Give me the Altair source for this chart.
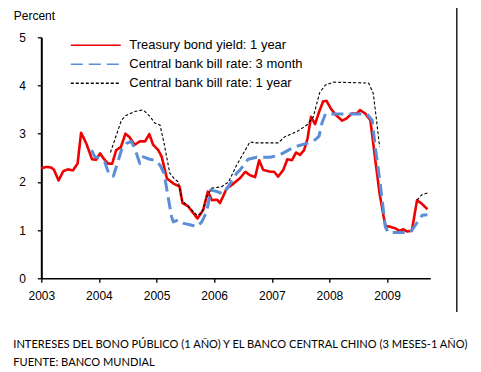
import altair as alt
import pandas as pd

# ---------------- data ----------------
red_t = [2003.00, 2003.08, 2003.17, 2003.22, 2003.30, 2003.38, 2003.46, 2003.55, 2003.63, 2003.69,
         2003.78, 2003.88, 2003.95, 2004.02, 2004.09, 2004.16, 2004.23, 2004.30, 2004.38, 2004.46,
         2004.53, 2004.62, 2004.71, 2004.80, 2004.875, 2004.94, 2005.03, 2005.09, 2005.18, 2005.29,
         2005.40, 2005.45, 2005.55, 2005.71, 2005.81, 2005.89, 2005.96, 2006.05, 2006.10, 2006.22,
         2006.31, 2006.45, 2006.54, 2006.62, 2006.71, 2006.78, 2006.85, 2006.97, 2007.04, 2007.11,
         2007.20, 2007.27, 2007.35, 2007.42, 2007.49, 2007.56, 2007.62, 2007.68, 2007.75, 2007.82,
         2007.89, 2007.95, 2008.02, 2008.10, 2008.22, 2008.30, 2008.39, 2008.48, 2008.53, 2008.62,
         2008.71, 2008.76, 2008.81, 2008.87, 2008.93, 2008.97, 2009.05, 2009.14, 2009.22, 2009.28,
         2009.35, 2009.43, 2009.52, 2009.61, 2009.70]
red_v = [2.28, 2.31, 2.30, 2.25, 2.03, 2.22, 2.26, 2.24, 2.38, 3.02,
         2.80, 2.47, 2.46, 2.59, 2.47, 2.38, 2.38, 2.66, 2.72, 3.00,
         2.93, 2.77, 2.84, 2.84, 2.99, 2.77, 2.66, 2.52, 2.07, 1.97,
         1.90, 1.56, 1.49, 1.24, 1.42, 1.80, 1.62, 1.63, 1.56, 1.87,
         1.94, 2.08, 2.21, 2.14, 2.10, 2.45, 2.25, 2.21, 2.21, 2.11,
         2.25, 2.47, 2.45, 2.61, 2.56, 2.66, 2.90, 3.35, 3.20, 3.45,
         3.67, 3.68, 3.53, 3.40, 3.27, 3.32, 3.42, 3.42, 3.49, 3.42,
         3.28, 2.80, 2.32, 1.76, 1.35, 1.09, 1.07, 1.04, 0.98, 1.02,
         0.97, 0.99, 1.62, 1.54, 1.43]

blue_t = [2003.87, 2003.93, 2004.02, 2004.10, 2004.18, 2004.25, 2004.33, 2004.39, 2004.48, 2004.56,
          2004.62, 2004.71, 2004.77, 2004.88, 2004.97, 2005.06, 2005.13, 2005.20, 2005.26, 2005.29,
          2005.38, 2005.47, 2005.58, 2005.70, 2005.785, 2005.87, 2005.94, 2006.05, 2006.16, 2006.28,
          2006.39, 2006.45, 2006.59, 2006.74, 2006.97, 2007.14, 2007.32, 2007.43, 2007.61, 2007.75,
          2007.82, 2007.87, 2007.93, 2008.65, 2008.74, 2008.81, 2008.88, 2008.97, 2009.02, 2009.40,
          2009.49, 2009.61, 2009.70]
blue_v = [2.66, 2.52, 2.49, 2.42, 2.14, 2.12, 2.42, 2.66, 2.80, 2.84,
          2.70, 2.38, 2.52, 2.47, 2.45, 2.35, 2.18, 1.69, 1.28, 1.17,
          1.21, 1.14, 1.11, 1.07, 1.17, 1.38, 1.83, 1.80, 1.75, 1.97,
          2.18, 2.25, 2.47, 2.51, 2.51, 2.56, 2.68, 2.74, 2.80, 2.87,
          2.95, 3.22, 3.41, 3.41, 3.28, 2.59, 1.97, 1.07, 0.95, 0.95,
          1.10, 1.31, 1.32]

# None marks a break in the 1-year bill series
black_t = [2004.20, 2004.39, 2004.47, 2004.62, 2004.75, 2004.80, 2004.89, 2004.97, 2005.06, 2005.13,
           2005.23, 2005.32, 2005.38, 2005.44, 2005.55, 2005.70, 2005.785, 2005.87, 2005.96, 2006.13,
           2006.25, 2006.39, 2006.62, 2006.70, 2007.11, 2007.23, 2007.43, 2007.61, 2007.72, 2007.83,
           2007.93, 2008.07, 2008.68, 2008.76, 2008.81, 2008.87, None, 2009.52, 2009.60, 2009.72]
black_v = [2.61, 3.28, 3.38, 3.46, 3.49, 3.46, 3.35, 3.22, 3.18, 2.80,
           2.18, 2.05, 2.00, 1.62, 1.49, 1.31, 1.35, 1.69, 1.87, 1.90,
           2.00, 2.35, 2.83, 2.81, 2.81, 2.94, 3.04, 3.18, 3.35, 3.85,
           4.01, 4.07, 4.05, 3.84, 3.35, 2.73, None, 1.62, 1.73, 1.78]

series_names = ["Treasury bond yield: 1 year",
                "Central bank bill rate: 3 month",
                "Central bank bill rate: 1 year"]
series_colors = ["#f00000", "#5b8ed6", "#000000"]
series_dashes = [[1, 0], [12, 6], [3, 2]]
series_widths = [2.6, 3.0, 1.1]

year_ticks = [2003, 2004, 2005, 2006, 2007, 2008, 2009]
value_ticks = [0, 1, 2, 3, 4, 5]

caption = ["INTERESES DEL BONO PÚBLICO (1 AÑO) Y EL BANCO CENTRAL CHINO (3 MESES-1 AÑO)",
           "FUENTE: BANCO MUNDIAL"]

# ---------------- table ----------------
rows = []
for name, ts, vs in zip(series_names, [red_t, blue_t, black_t], [red_v, blue_v, black_v]):
    seg = 0
    for t, v in zip(ts, vs):
        if t is None:
            seg += 1
            continue
        rows.append({"t": t, "v": v, "series": name, "seg": f"{name}-{seg}"})
df = pd.DataFrame(rows)

W, H = 389, 241

color = alt.Color("series:N", scale=alt.Scale(domain=series_names, range=series_colors),
                  legend=alt.Legend(title=None, orient="none", legendX=48, legendY=1.5,
                                    symbolType="M-5,0H5", symbolSize=100, symbolStrokeWidth=1.6,
                                    labelOffset=27, labelFontSize=13, labelLimit=400,
                                    labelFont="Liberation Sans", labelColor="#000",
                                    rowPadding=5))
dash = alt.StrokeDash("series:N", scale=alt.Scale(domain=series_names, range=series_dashes), legend=None)

x = alt.X("t:Q", scale=alt.Scale(domain=[2003, 2009.75], nice=False, zero=False),
          axis=alt.Axis(values=year_ticks, format="d", title=None, grid=False, labelFlush=False,
                        tickSize=4, labelPadding=8, domainWidth=1.5, tickWidth=1.3))
y = alt.Y("v:Q", scale=alt.Scale(domain=[0, 5], nice=False),
          axis=alt.Axis(values=value_ticks, title="Percent", titleAngle=0, titleAlign="left",
                        titleBaseline="middle", titleX=-28, titleY=-22, titleFontWeight="normal",
                        titleFontSize=12, titleFont="Liberation Sans", labelFlush=False,
                        grid=False, tickSize=4, labelPadding=12, domainWidth=2, tickWidth=1.3))

layers = []
for name, w in zip(series_names, series_widths):
    layers.append(
        alt.Chart(df).transform_filter(alt.datum.series == name)
        .mark_line(strokeCap="butt", strokeJoin="round", strokeWidth=w)
        .encode(x=x, y=y, color=color, strokeDash=dash, detail="seg:N")
    )

border = alt.Chart(pd.DataFrame({"a": [0]})).mark_rule(color="#000", strokeWidth=1.3).encode(
    x=alt.value(415.5), y=alt.value(-29.3), y2=alt.value(274.7))

chart = alt.layer(*layers, border).properties(
    width=W, height=H,
    autosize=alt.AutoSizeParams(type="none"),
    padding={"left": 33.3, "top": 29.3, "right": 42.5, "bottom": 93},
    title=alt.TitleParams(text=caption, orient="bottom", anchor="start", frame="group",
                          dx=-28, offset=26, fontSize=11.1, font="Lato", fontWeight="normal",
                          lineHeight=18, baseline="top", color="#000"),
).configure_view(stroke=None).configure_axis(
    domainColor="#000", tickColor="#000", labelColor="#000", titleColor="#000",
    labelFont="Liberation Sans", labelFontSize=12
)

chart.save("out.html", embed_options={"renderer": "svg", "actions": False})
